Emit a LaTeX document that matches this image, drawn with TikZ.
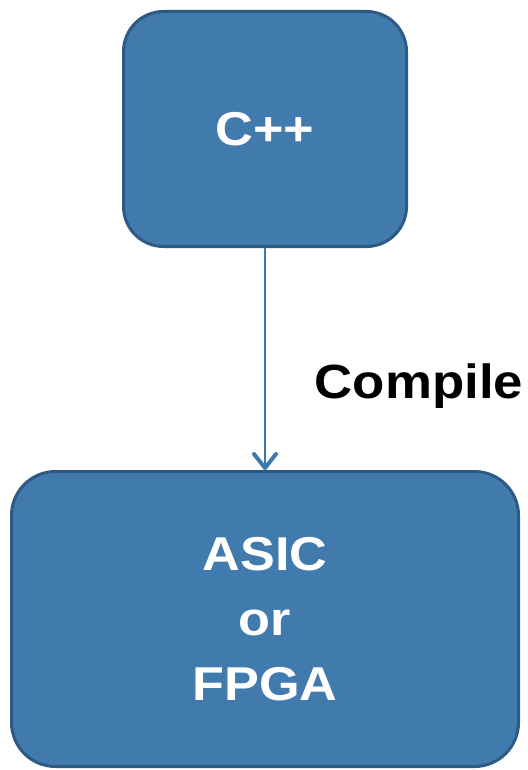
\documentclass[tikz,border=0pt]{standalone}
\usepackage{fontspec}
\setmainfont{Liberation Sans}[FakeStretch=1.1]
\usetikzlibrary{positioning, arrows.meta}
\definecolor{boxfill}{RGB}{65,122,172}
\definecolor{boxline}{RGB}{44,90,133}
\definecolor{arrowcol}{RGB}{60,121,175}

\begin{document}
\begin{tikzpicture}[x=1pt,y=-1pt,
  stage/.style={draw=boxline, fill=boxfill, line width=3pt, inner sep=0pt,
    text=white, align=center, font=\fontsize{47.5}{65}\selectfont\bfseries}]
\useasboundingbox (0,0) rectangle (527,770);
\node[stage, rounded corners=40pt, minimum width=283pt, minimum height=235pt] (cpp) at (265,129) {C++};
\node[stage, rounded corners=44pt, minimum width=507pt, minimum height=295pt] (hw) at (265,619) {ASIC\\or\\FPGA};
\node[font=\fontsize{48}{55}\selectfont\bfseries, anchor=base] (lbl) at (419,398) {Compile};
\draw (cpp) edge[arrowcol, line width=2pt, -{Straight Barb[length=14pt, width=22pt, line width=4pt, round]}] (hw);
\end{tikzpicture}
\end{document}
